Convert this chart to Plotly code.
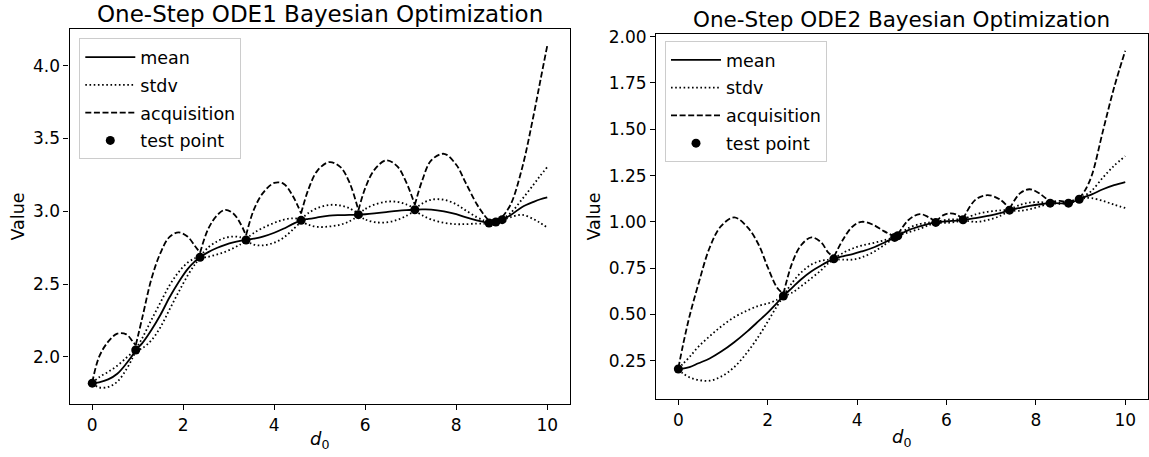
import numpy as np
import plotly.graph_objects as go

# ---------------- ODE1 (left panel) ----------------
ode1_x = [0, 0.15, 0.35, 0.55, 0.75, 0.88, 0.956, 1.1, 1.3, 1.5, 1.7, 1.9, 2.1, 2.25, 2.37,
          2.55, 2.75, 2.92, 3.1, 3.25, 3.38, 3.55, 3.75, 4.0, 4.2, 4.4, 4.59,
          4.75, 4.95, 5.21, 5.45, 5.65, 5.85, 6.0, 6.2, 6.46, 6.7, 6.9, 7.09,
          7.25, 7.45, 7.73, 8.0, 8.2, 8.45, 8.6, 8.72, 8.8, 8.87, 8.94, 9.01,
          9.2, 9.45, 9.7, 9.85, 10]
ode1_mean = [1.82, 1.826, 1.846, 1.885, 1.955, 2.01, 2.048, 2.095, 2.185, 2.29, 2.41, 2.515, 2.605, 2.655, 2.685,
             2.72, 2.75, 2.77, 2.787, 2.797, 2.803, 2.812, 2.826, 2.853, 2.88, 2.912, 2.938,
             2.948, 2.958, 2.97, 2.974, 2.976, 2.977, 2.98, 2.986, 2.995, 3.003, 3.008, 3.011,
             3.013, 3.012, 3.0, 2.98, 2.96, 2.938, 2.927, 2.92, 2.923, 2.927, 2.934, 2.943,
             2.975, 3.03, 3.065, 3.083, 3.096]
ode1_stdv = [0.001, 0.035, 0.052, 0.055, 0.04, 0.02, 0.006, 0.035, 0.07, 0.085, 0.083, 0.068, 0.044, 0.022, 0.006,
             0.032, 0.045, 0.048, 0.04, 0.025, 0.006, 0.04, 0.06, 0.068, 0.062, 0.04, 0.009,
             0.04, 0.065, 0.074, 0.066, 0.045, 0.008, 0.036, 0.06, 0.071, 0.062, 0.04, 0.007,
             0.04, 0.068, 0.079, 0.068, 0.048, 0.022, 0.011, 0.004, 0.003, 0.003, 0.003, 0.004,
             0.015, 0.054, 0.119, 0.163, 0.208]
ode1_acq = [1.825, 2.0, 2.105, 2.16, 2.155, 2.11, 2.08, 2.27, 2.535, 2.715, 2.825, 2.855, 2.825, 2.765, 2.715,
            2.88, 2.975, 3.01, 2.985, 2.92, 2.835, 3.01, 3.125, 3.195, 3.19, 3.11, 2.985,
            3.15, 3.28, 3.338, 3.305, 3.2, 3.007, 3.16, 3.285, 3.35, 3.31, 3.2, 3.045,
            3.21, 3.35, 3.395, 3.32, 3.2, 3.05, 2.98, 2.935, 2.94, 2.942, 2.948, 2.96,
            3.05, 3.30, 3.66, 3.90, 4.137]
ode1_test_x = [0, 0.956, 2.37, 3.38, 4.59, 5.85, 7.09, 8.72, 8.87, 9.01]
ode1_test_y = [1.82, 2.048, 2.685, 2.803, 2.938, 2.977, 3.011, 2.92, 2.927, 2.943]

# ---------------- ODE2 (right panel) ----------------
ode2_x = [0, 0.1, 0.25, 0.45, 0.7, 0.95, 1.25, 1.55, 1.8, 2.0, 2.2, 2.35,
          2.55, 2.75, 2.98, 3.2, 3.35, 3.48, 3.7, 3.9, 4.1, 4.35, 4.6, 4.84, 4.91,
          5.15, 5.4, 5.6, 5.76, 5.92, 6.07, 6.22, 6.37, 6.65, 6.92, 7.2, 7.41,
          7.65, 7.86, 8.1, 8.32, 8.53, 8.73, 8.85, 8.97, 9.1, 9.25, 9.5, 9.75, 10]
ode2_mean = [0.205, 0.207, 0.215, 0.236, 0.262, 0.298, 0.35, 0.41, 0.465, 0.51, 0.56, 0.599,
             0.645, 0.69, 0.733, 0.765, 0.785, 0.80, 0.815, 0.826, 0.84, 0.86, 0.887, 0.916, 0.925,
             0.955, 0.975, 0.989, 0.997, 1.001, 1.004, 1.007, 1.011, 1.02, 1.032, 1.047, 1.063,
             1.076, 1.086, 1.095, 1.101, 1.10, 1.101, 1.11, 1.122, 1.135, 1.148, 1.176, 1.198, 1.215]
ode2_stdv = [0.001, 0.025, 0.055, 0.09, 0.12, 0.135, 0.135, 0.112, 0.082, 0.049, 0.018, 0.002,
             0.027, 0.037, 0.037, 0.025, 0.01, 0.002, 0.019, 0.03, 0.032, 0.025, 0.013, 0.001, 0.001,
             0.011, 0.013, 0.007, 0.001, 0.0065, 0.0085, 0.0065, 0.001, 0.02, 0.022, 0.015, 0.0015,
             0.016, 0.018, 0.011, 0.001, 0.0026, 0.001, 0.0016, 0.001, 0.007, 0.02, 0.063, 0.105, 0.14]
ode2_acq = [0.21, 0.33, 0.49, 0.665, 0.86, 0.975, 1.024, 0.97, 0.875, 0.755, 0.648, 0.61,
            0.78, 0.875, 0.916, 0.888, 0.835, 0.81, 0.91, 0.975, 1.0, 0.985, 0.95, 0.92, 0.93,
            1.01, 1.042, 1.025, 1.0, 1.035, 1.046, 1.04, 1.015, 1.12, 1.144, 1.12, 1.07,
            1.155, 1.176, 1.15, 1.105, 1.113, 1.103, 1.118, 1.125, 1.17, 1.25, 1.49, 1.725, 1.924]
ode2_test_x = [0, 2.35, 3.48, 4.84, 4.91, 5.76, 6.37, 7.41, 8.32, 8.73, 8.97]
ode2_test_y = [0.205, 0.599, 0.80, 0.916, 0.925, 0.997, 1.011, 1.063, 1.101, 1.101, 1.122]

titles = ["One-Step ODE1 Bayesian Optimization", "One-Step ODE2 Bayesian Optimization"]
x_ticks = [0, 2, 4, 6, 8, 10]
ode1_y_ticks = [2.0, 2.5, 3.0, 3.5, 4.0]
ode2_y_ticks = [0.25, 0.50, 0.75, 1.00, 1.25, 1.50, 1.75, 2.00]

W, H = 1149, 457
FONT = "DejaVu Sans"
INK = "#000000"
LW = 1.8
DASH = "6px,2.6px"
DOT = "1.6px,2.6px"


def split_at(xs, ys, cuts):
    """Break a curve into pieces that start/end at the sampled test points,
    so the spline keeps the sharp corners there."""
    cuts = set(cuts)
    out_x, out_y, seg_x, seg_y = [], [], [], []
    for xv, yv in zip(xs, ys):
        seg_x.append(xv)
        seg_y.append(yv)
        if xv in cuts and len(seg_x) > 1:
            out_x += seg_x + [None]
            out_y += seg_y + [None]
            seg_x, seg_y = [xv], [yv]
    if len(seg_x) > 1:
        out_x += seg_x
        out_y += seg_y
    return out_x, out_y


fig = go.Figure()


def add_panel(idx, x, mean, stdv, acq, tx, ty):
    xa = "x" if idx == 1 else "x2"
    ya = "y" if idx == 1 else "y2"
    lg = "legend" if idx == 1 else "legend2"
    x = np.array(x, dtype=float)
    mean = np.array(mean)
    stdv = np.array(stdv)
    upper = mean + stdv
    lower = mean - stdv

    fig.add_trace(go.Scatter(x=x, y=mean, mode="lines", name="mean",
                             line=dict(color=INK, width=LW, shape="spline", smoothing=1),
                             xaxis=xa, yaxis=ya, legend=lg, legendgroup=f"m{idx}"))
    ux, uy = split_at(x.tolist(), upper.tolist(), tx)
    fig.add_trace(go.Scatter(x=ux, y=uy, mode="lines", name="stdv", connectgaps=False,
                             line=dict(color=INK, width=LW, dash=DOT, shape="spline", smoothing=1),
                             xaxis=xa, yaxis=ya, legend=lg, legendgroup=f"s{idx}"))
    lx, ly = split_at(x.tolist(), lower.tolist(), tx)
    fig.add_trace(go.Scatter(x=lx, y=ly, mode="lines", name="stdv", connectgaps=False,
                             showlegend=False,
                             line=dict(color=INK, width=LW, dash=DOT, shape="spline", smoothing=1),
                             xaxis=xa, yaxis=ya, legend=lg, legendgroup=f"s{idx}"))
    axq, ayq = split_at(x.tolist(), list(acq), tx)
    fig.add_trace(go.Scatter(x=axq, y=ayq, mode="lines", name="acquisition", connectgaps=False,
                             line=dict(color=INK, width=LW, dash=DASH, shape="spline", smoothing=1),
                             xaxis=xa, yaxis=ya, legend=lg, legendgroup=f"a{idx}"))
    fig.add_trace(go.Scatter(x=tx, y=ty, mode="markers", name="test point",
                             marker=dict(color=INK, size=9),
                             xaxis=xa, yaxis=ya, legend=lg, legendgroup=f"t{idx}"))


add_panel(1, ode1_x, ode1_mean, ode1_stdv, ode1_acq, ode1_test_x, ode1_test_y)
add_panel(2, ode2_x, ode2_mean, ode2_stdv, ode2_acq, ode2_test_x, ode2_test_y)

# pixel boxes of the two axes areas
left_box = dict(x0=69.5, x1=570.0, y0=28.7, y1=404.3)
right_box = dict(x0=656.0, x1=1147.6, y0=34.1, y1=399.2)


def px_dom_x(b):
    return [b["x0"] / W, b["x1"] / W]


def px_dom_y(b):
    return [1 - b["y1"] / H, 1 - b["y0"] / H]


axis_common = dict(showline=True, mirror=True, linecolor=INK, linewidth=1.1,
                   ticks="outside", ticklen=5, tickwidth=1.1, tickcolor=INK,
                   showgrid=False, zeroline=False, automargin=False,
                   tickfont=dict(family=FONT, size=17, color=INK))

legend_common = dict(xanchor="left", yanchor="top",
                     bgcolor="white", bordercolor="#cccccc", borderwidth=1,
                     font=dict(family=FONT, size=17.5, color=INK),
                     traceorder="grouped", tracegroupgap=2, itemwidth=50)

fig.update_layout(
    width=W, height=H,
    margin=dict(l=0, r=0, t=0, b=0),
    paper_bgcolor="white", plot_bgcolor="white",
    font=dict(family=FONT, size=17, color=INK),
    xaxis=dict(domain=px_dom_x(left_box), range=[-0.5, 10.5], tickvals=x_ticks,
               anchor="y", **axis_common),
    yaxis=dict(domain=px_dom_y(left_box), range=[1.675, 4.254], tickvals=ode1_y_ticks,
               tickformat=".1f", anchor="x", **axis_common),
    xaxis2=dict(domain=px_dom_x(right_box), range=[-0.5, 10.5], tickvals=x_ticks,
                anchor="y2", **axis_common),
    yaxis2=dict(domain=px_dom_y(right_box), range=[0.042, 2.014], tickvals=ode2_y_ticks,
                tickformat=".2f", anchor="x2", **axis_common),
    legend=dict(x=79.3 / W, y=1 - 38.3 / H, **legend_common),
    legend2=dict(x=665 / W, y=1 - 41 / H, **legend_common),
)

annotations = [
    dict(text=titles[0], x=(left_box["x0"] + left_box["x1"]) / 2 / W, y=1 - 14 / H, size=23),
    dict(text=titles[1], x=(right_box["x0"] + right_box["x1"]) / 2 / W, y=1 - 19 / H, size=21.5),
    dict(text="Value", x=18 / W, y=1 - 216.5 / H, textangle=-90, size=17.5),
    dict(text="Value", x=594 / W, y=1 - 216.6 / H, textangle=-90, size=17.5),
    dict(text="<i>d</i><sub>0</sub>", x=(left_box["x0"] + left_box["x1"]) / 2 / W, y=1 - 440 / H, size=18),
    dict(text="<i>d</i><sub>0</sub>", x=(right_box["x0"] + right_box["x1"]) / 2 / W, y=1 - 438 / H, size=18),
]
for a in annotations:
    size = a.pop("size")
    fig.add_annotation(xref="paper", yref="paper", xanchor="center", yanchor="middle",
                       showarrow=False, font=dict(family=FONT, color=INK, size=size), **a)

fig.write_html("out.html")
